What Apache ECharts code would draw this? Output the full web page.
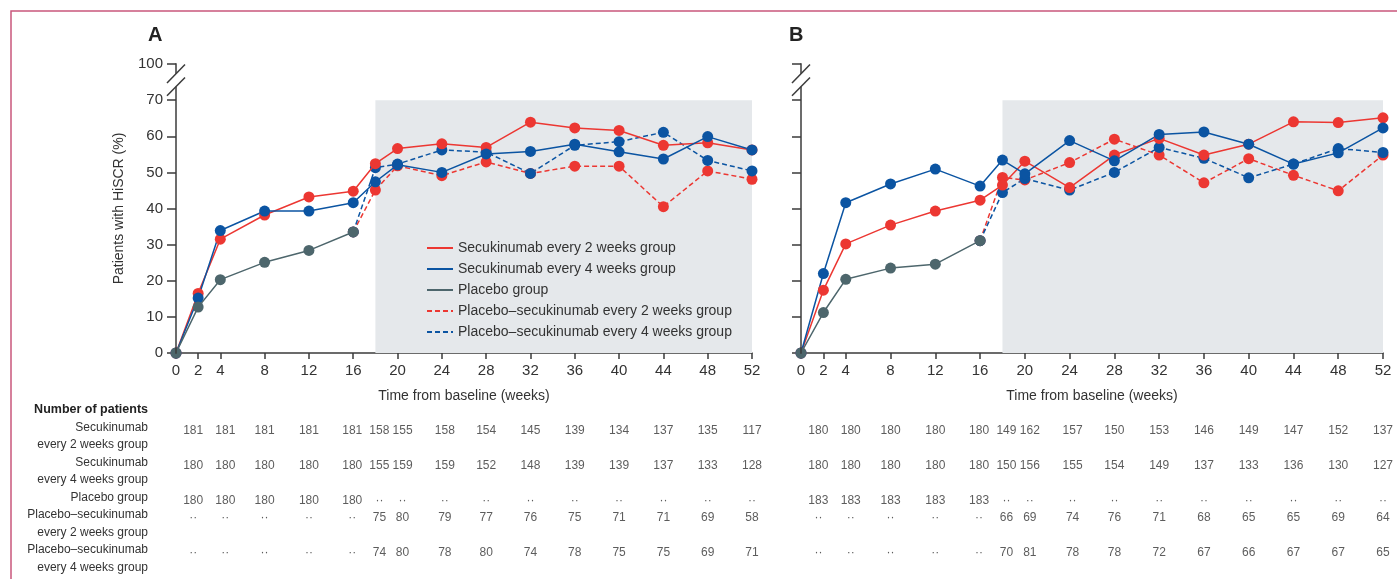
<!DOCTYPE html>
<html><head><meta charset="utf-8">
<script src="https://cdn.jsdelivr.net/npm/echarts@6/dist/echarts.min.js"></script>
<style>html,body{margin:0;padding:0;background:#fff}#c{width:1397px;height:579px}</style>
</head><body><div id="c"></div>
<script>
// ---------- data ----------
const WEEKS_MAIN = [0,2,4,8,12,16,18,20,24,28,32,36,40,44,48,52];
const WEEKS_PBO = [0,2,4,8,12,16];
const WEEKS_SWITCH = [16,18,20,24,28,32,36,40,44,48,52];
const X_TICKS = [0,2,4,8,12,16,20,24,28,32,36,40,44,48,52];
const Y_TICKS_LABEL = {80:'100'};
const SHADE_WEEKS = [18,52];

const A_SEC2 = [0,16.5,31.5,38.2,43.2,44.8,52.4,56.6,57.9,56.9,63.9,62.3,61.6,57.5,58.2,56.2];
const A_SEC4 = [0,15.2,33.9,39.3,39.3,41.6,47.4,52.1,50.0,55.1,55.8,57.8,55.7,53.7,59.9,56.2];
const A_PBO  = [0,12.7,20.3,25.1,28.4,33.5];
const A_PS2  = [33.5,45.1,51.8,49.1,52.9,49.7,51.7,51.7,40.5,50.4,48.1];
const A_PS4  = [33.5,51.3,52.3,56.2,55.6,49.7,57.5,58.5,61.1,53.3,50.4];

const B_SEC2 = [0,17.4,30.2,35.4,39.3,42.3,46.5,53.1,45.8,54.8,59.4,54.8,57.8,64.0,63.8,65.1];
const B_SEC4 = [0,22.0,41.6,46.8,50.9,46.2,53.4,49.6,58.8,53.2,60.5,61.2,57.8,52.3,55.4,62.3];
const B_PBO  = [0,11.2,20.4,23.5,24.6,31.1];
const B_PS2  = [31.1,48.6,47.9,52.7,59.2,54.8,47.1,53.8,49.2,44.9,54.8];
const B_PS4  = [31.1,44.4,48.3,45.1,50.0,56.9,53.9,48.5,52.3,56.6,55.5];

const TABLE_WEEKS = [2,4,8,12,16,18,20,24,28,32,36,40,44,48,52];
const A_N_SEC2 = [181,181,181,181,181,158,155,158,154,145,139,134,137,135,117];
const A_N_SEC4 = [180,180,180,180,180,155,159,159,152,148,139,139,137,133,128];
const A_N_PBO  = [180,180,180,180,180,null,null,null,null,null,null,null,null,null,null];
const A_N_PS2  = [null,null,null,null,null,75,80,79,77,76,75,71,71,69,58];
const A_N_PS4  = [null,null,null,null,null,74,80,78,80,74,78,75,75,69,71];
const B_N_SEC2 = [180,180,180,180,180,149,162,157,150,153,146,149,147,152,137];
const B_N_SEC4 = [180,180,180,180,180,150,156,155,154,149,137,133,136,130,127];
const B_N_PBO  = [183,183,183,183,183,null,null,null,null,null,null,null,null,null,null];
const B_N_PS2  = [null,null,null,null,null,66,69,74,76,71,68,65,65,69,64];
const B_N_PS4  = [null,null,null,null,null,70,81,78,78,72,67,66,67,67,65];

const TABLE_LABELS = ['Number of patients','Secukinumab','every 2 weeks group','Secukinumab','every 4 weeks group','Placebo group','Placebo–secukinumab','every 2 weeks group','Placebo–secukinumab','every 4 weeks group'];
const TABLE_ROWS = [1,3,5,6,8]; // label line of each count row

const NAMES = ['Secukinumab every 2 weeks group','Secukinumab every 4 weeks group','Placebo group','Placebo–secukinumab every 2 weeks group','Placebo–secukinumab every 4 weeks group'];

// ---------- style / layout ----------
const FONT = 'Liberation Sans';
const RED = '#ec3732', BLUE = '#0b54a2', GRAY = '#4d666c', AX = '#3b3b3b', TXT = '#333';
// horizontal nudges (px) of table columns that are typeset apart from their tick
const COL_NUDGE = {2:-5, 4:5, 16:-1, 18:4, 20:5, 24:3};

function pairs(xs, ys){ return xs.map((x,i)=>[x, ys[i]]); }
function lineSeries(name, xs, ys, color, dashed, gi, z){
  return {type:'line', name, xAxisIndex:gi, yAxisIndex:gi, data:pairs(xs, ys),
    symbol:'circle', symbolSize:11, color, z,
    lineStyle:{width:1.5, color, type: dashed ? [5,3] : 'solid'},
    itemStyle:{color}, emphasis:{disabled:true}, animation:false};
}
function breakSeries(gi){
  return {type:'custom', xAxisIndex:gi, yAxisIndex:gi, data:[[0,0]], clip:false, silent:true, z:6,
    renderItem:(p, api)=>{
      const top = api.coord([0,80]), v70 = api.coord([0,70]), base = api.coord([0,0]);
      const x = base[0];
      const c1 = top[1] + 9.8, c2 = v70[1] - 13.5;
      const st = {stroke:AX, lineWidth:1.5};
      return {type:'group', children:[
        {type:'line', shape:{x1:x, y1:top[1]-0.7, x2:x, y2:c1}, style:st},
        {type:'line', shape:{x1:x, y1:c2, x2:x, y2:base[1]+0.7}, style:st},
        {type:'line', shape:{x1:x-9, y1:c1+9.2, x2:x+9, y2:c1-9.2}, style:st},
        {type:'line', shape:{x1:x-9, y1:c2+9.2, x2:x+9, y2:c2-9.2}, style:st}
      ]};
    }};
}
function shadeSeries(gi){
  return {type:'line', xAxisIndex:gi, yAxisIndex:gi, data:[], z:1, silent:true,
    markArea:{silent:true, itemStyle:{color:'#e5e8eb'},
      data:[[{coord:[SHADE_WEEKS[0],0]},{coord:[SHADE_WEEKS[1],70]}]]}};
}
function countSeries(gi, counts, row){
  return {type:'scatter', xAxisIndex:gi, yAxisIndex:gi, symbolSize:1,
    itemStyle:{color:'transparent'}, silent:true, z:3,
    data: TABLE_WEEKS.map((w,i)=>({value:[w, row, counts[i]],
      label:{offset:[COL_NUDGE[w] || 0, 3]}})),
    label:{show:true, position:'inside', fontFamily:FONT, fontSize:12, color:TXT,
      formatter:(p)=> p.value[2] == null ? '··' : String(p.value[2])}};
}
function mainX(gi){
  return {type:'value', gridIndex:gi, min:0, max:52,
    name:'Time from baseline (weeks)', nameLocation:'middle', nameGap:36,
    nameTextStyle:{fontFamily:FONT, fontSize:14, color:TXT},
    axisLine:{show:true, lineStyle:{color:AX, width:1.5}},
    axisTick:{show:true, length:6, lineStyle:{color:AX, width:1.5}, customValues:X_TICKS},
    axisLabel:{fontFamily:FONT, fontSize:15, color:TXT, margin:10, customValues:X_TICKS},
    splitLine:{show:false}};
}
function mainY(gi, showLabels){
  return {type:'value', gridIndex:gi, min:0, max:80, interval:10,
    name: showLabels ? 'Patients with HiSCR (%)' : '', nameLocation:'middle', nameGap:50, nameRotate:90,
    nameTextStyle:{fontFamily:FONT, fontSize:14, color:TXT},
    axisLine:{show:false},
    axisTick:{show:true, length:9, lineStyle:{color:AX, width:1.5}},
    axisLabel:{show:showLabels, fontFamily:FONT, fontSize:15, color:TXT, margin:13,
      formatter:(v)=> Y_TICKS_LABEL[v] !== undefined ? Y_TICKS_LABEL[v] : String(v)},
    splitLine:{show:false}};
}
function tableY(gi, showLabels){
  return {type:'category', gridIndex:gi, data:TABLE_LABELS, inverse:true, boundaryGap:true,
    axisLine:{show:false}, axisTick:{show:false}, splitLine:{show:false},
    axisLabel:{show:showLabels, interval:0, margin:28, fontFamily:FONT, fontSize:12, color:TXT,
      formatter:(v,i)=> i===0 ? '{b|'+v+'}' : v,
      rich:{b:{fontFamily:FONT, fontSize:12.5, fontWeight:'bold', color:'#222'}}}};
}

const series = [
  shadeSeries(0), shadeSeries(1),
  lineSeries(NAMES[3], WEEKS_SWITCH, A_PS2, RED, true, 0, 2),
  lineSeries(NAMES[4], WEEKS_SWITCH, A_PS4, BLUE, true, 0, 2),
  lineSeries(NAMES[0], WEEKS_MAIN, A_SEC2, RED, false, 0, 3),
  lineSeries(NAMES[1], WEEKS_MAIN, A_SEC4, BLUE, false, 0, 3),
  lineSeries(NAMES[2], WEEKS_PBO, A_PBO, GRAY, false, 0, 4),
  lineSeries(NAMES[3], WEEKS_SWITCH, B_PS2, RED, true, 1, 2),
  lineSeries(NAMES[4], WEEKS_SWITCH, B_PS4, BLUE, true, 1, 2),
  lineSeries(NAMES[0], WEEKS_MAIN, B_SEC2, RED, false, 1, 3),
  lineSeries(NAMES[1], WEEKS_MAIN, B_SEC4, BLUE, false, 1, 3),
  lineSeries(NAMES[2], WEEKS_PBO, B_PBO, GRAY, false, 1, 4),
  breakSeries(0), breakSeries(1),
  countSeries(2, A_N_SEC2, TABLE_ROWS[0]), countSeries(2, A_N_SEC4, TABLE_ROWS[1]),
  countSeries(2, A_N_PBO, TABLE_ROWS[2]), countSeries(2, A_N_PS2, TABLE_ROWS[3]),
  countSeries(2, A_N_PS4, TABLE_ROWS[4]),
  countSeries(3, B_N_SEC2, TABLE_ROWS[0]), countSeries(3, B_N_SEC4, TABLE_ROWS[1]),
  countSeries(3, B_N_PBO, TABLE_ROWS[2]), countSeries(3, B_N_PS2, TABLE_ROWS[3]),
  countSeries(3, B_N_PS4, TABLE_ROWS[4])
];

const option = {
  animation:false,
  backgroundColor:'#fff',
  textStyle:{fontFamily:FONT},
  title:[
    {text:'A', left:148, top:25, padding:0, textStyle:{fontFamily:FONT, fontSize:20, fontWeight:'bold', color:'#222'}},
    {text:'B', left:789, top:25, padding:0, textStyle:{fontFamily:FONT, fontSize:20, fontWeight:'bold', color:'#222'}}
  ],
  legend:{data:NAMES, orient:'vertical', left:426, top:241, padding:0, itemWidth:26, itemHeight:14, itemGap:7,
    selectedMode:false, itemStyle:{opacity:0},
    textStyle:{fontFamily:FONT, fontSize:14, color:TXT}},
  grid:[
    {left:176, right:645, top:64, bottom:226},
    {left:801, right:14, top:64, bottom:226},
    {left:176, right:645, top:401, height:175},
    {left:801, right:14, top:401, height:175}
  ],
  xAxis:[ mainX(0), mainX(1),
    {type:'value', gridIndex:2, min:0, max:52, show:false},
    {type:'value', gridIndex:3, min:0, max:52, show:false} ],
  yAxis:[ mainY(0, true), mainY(1, false), tableY(2, true), tableY(3, false) ],
  graphic:[
    {type:'polyline', silent:true, shape:{points:[[11,579],[11,11],[1397,11]]},
     style:{stroke:'#c9577c', lineWidth:1.5, fill:null}}
  ],
  series
};
const chart = echarts.init(document.getElementById('c'), null, {renderer:'canvas'});
chart.setOption(option);
</script>
</body></html>
